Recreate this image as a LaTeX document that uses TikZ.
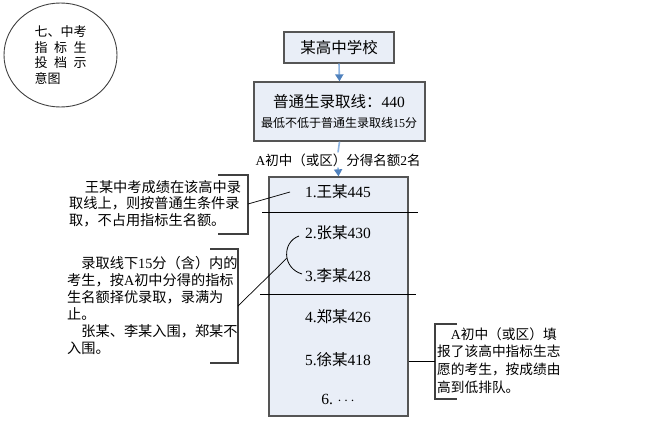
\documentclass[tikz,border=0pt]{standalone}
\usepackage{fontspec}
\setmainfont{Noto Sans CJK SC}
\newfontfamily\lat{Liberation Serif}
\newcommand\lt[1]{{\lat #1}}
\usetikzlibrary{arrows.meta,shapes.geometric}
\definecolor{boxfill}{HTML}{E9EEF7}
\definecolor{boxline}{HTML}{555555}
\definecolor{arr}{HTML}{4F81BD}
\definecolor{arrline}{HTML}{8DB4E2}
\definecolor{brk}{HTML}{404040}
\tikzset{
  boxnode/.style={draw=boxline, line width=1.3pt, fill=boxfill, inner sep=0pt, rectangle},
  bluearrow/.style={draw=arrline, line width=1.6pt, -{Triangle[length=7pt,width=8pt,color=arr,fill=arr]}},
  blueline/.style={draw=arrline, line width=1.6pt},
  entry/.style={inner sep=0pt, font=\fontsize{15.5}{18}\selectfont},
  bracket/.style={draw=brk, line width=1.1pt},
  conn/.style={draw=black, line width=0.7pt},
  sepline/.style={draw=black, line width=0.9pt},
  note/.style={inner sep=0pt, align=left, anchor=west},
}
\begin{document}
\begin{tikzpicture}[x=1pt,y=-1pt]
\useasboundingbox (0,0) rectangle (655,447);
\fill[white] (0,0) rectangle (655,447);

% title ellipse
\node[ellipse, draw=brk, line width=0.9pt, minimum width=113pt, minimum height=104pt, inner sep=0pt,
      align=left, font=\fontsize{13}{15.8}\selectfont] (title) at (60.5,55)
  {七、中考\\\makebox[52pt][s]{指\hfill 标\hfill 生}\\\makebox[52pt][s]{投\hfill 档\hfill 示}\\意图};

% boxes
\node[boxnode, minimum width=110pt, minimum height=31pt, font=\fontsize{15.5}{18}\selectfont] (b1) at (339,47.5) {某高中学校};
\node[boxnode, minimum width=171pt, minimum height=59pt] (b2) at (339.5,111.5) {};
\node[inner sep=0pt, font=\fontsize{15.5}{18}\selectfont] (t2a) at (339,102) {普通生录取线：\lt{440}};
\node[inner sep=0pt, font=\fontsize{12}{14}\selectfont] (t2b) at (339,123) {最低不低于普通生录取线\lt{15}分};
\node[inner sep=1pt, font=\fontsize{13.5}{16}\selectfont] (lab) at (338,160) {\lt{A}初中（或区）分得名额\lt{2}名};
\node[boxnode, minimum width=139pt, minimum height=239pt] (b3) at (338.5,296.5) {};

% connectors between boxes
\draw[bluearrow] (b1.south) -- (b2.north);
\draw[blueline] (b2.south) -- (lab.north);
\draw[bluearrow] (lab.south) -- (b3.north);

% entries
\node[entry] (e1) at (338,192) {\lt{1.}王某\lt{445}};
\node[entry] (e2) at (338,233) {\lt{2.}张某\lt{430}};
\node[entry] (e3) at (338,276) {\lt{3.}李某\lt{428}};
\node[entry] (e4) at (338,317) {\lt{4.}郑某\lt{426}};
\node[entry] (e5) at (338,360) {\lt{5.}徐某\lt{418}};
\node[entry] (e6) at (338,399) {\lt{6.} $\cdots$};

% separators
\coordinate (s1a) at (262,212); \coordinate (s1b) at (418,212);
\coordinate (s2a) at (260,294); \coordinate (s2b) at (416,294);
\draw[sepline] (s1a) -- (s1b);
\draw[sepline] (s2a) -- (s2b);

% arc grouping 2 and 3
\coordinate (arcA) at (299,236);
\coordinate (arcB) at (302,274);
\draw[conn, line width=0.8pt] (arcA) .. controls (282,242) and (282,268) .. (arcB);
\coordinate (arcM) at (287,258);

% callout 1
\coordinate (c1a) at (218,175); \coordinate (c1b) at (248,175);
\coordinate (c1c) at (248,234); \coordinate (c1d) at (218,234);
\draw[bracket] (c1a) -- (c1b) -- (c1c) -- (c1d);
\coordinate (c1m) at (248,204); \coordinate (c1t) at (290,192);
\draw[conn] (c1m) -- (c1t);
\node[note, font=\fontsize{14.2}{16.6}\selectfont] (n1) at (69,203.5)
  {\hspace*{1.1em}王某中考成绩在该高中录\\取线上，则按普通生条件录\\取，不占用指标生名额。};

% callout 2
\coordinate (c2a) at (210,249); \coordinate (c2b) at (238,249);
\coordinate (c2c) at (238,363); \coordinate (c2d) at (210,363);
\draw[bracket] (c2a) -- (c2b) -- (c2c) -- (c2d);
\coordinate (c2m) at (238,306);
\draw[conn] (c2m) -- (arcM);
\node[note, font=\fontsize{14.2}{17}\selectfont] (n2) at (67,305.5)
  {\hspace*{1em}录取线下\lt{15}分（含）内的\\考生，按\lt{A}初中分得的指标\\生名额择优录取，录满为\\止。\\\hspace*{1em}张某、李某入围，郑某不\\入围。};

% callout 3
\coordinate (c3a) at (457,324); \coordinate (c3b) at (435,324);
\coordinate (c3c) at (435,399); \coordinate (c3d) at (457,399);
\draw[bracket] (c3a) -- (c3b) -- (c3c) -- (c3d);
\coordinate (c3m) at (435,361);
\draw[conn, line width=0.9pt] (b3.east |- c3m) -- (c3m);
\node[note, font=\fontsize{13.7}{17.6}\selectfont] (n3) at (437,360.5)
  {\hspace*{1em}\lt{A}初中（或区）填\\报了该高中指标生志\\愿的考生，按成绩由\\高到低排队。};
\end{tikzpicture}
\end{document}
